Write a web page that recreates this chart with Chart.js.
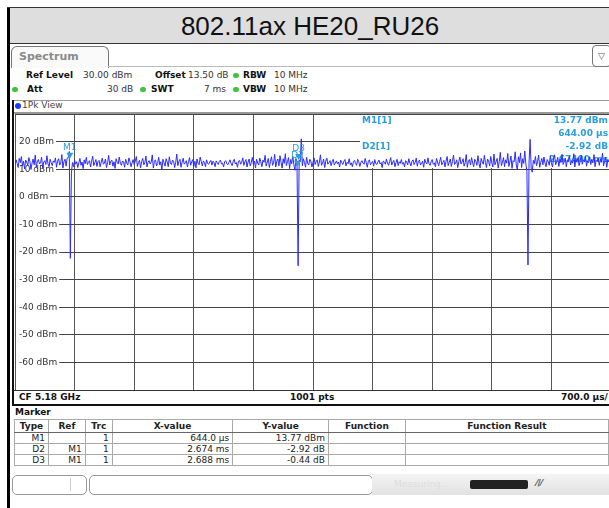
<!DOCTYPE html>
<html>
<head>
<meta charset="utf-8">
<script src="https://cdn.jsdelivr.net/npm/chart.js@4.4.1/dist/chart.umd.min.js"></script>
<style>
body { margin: 0; background: #fff; font-family: "DejaVu Sans", sans-serif; }
#page { position: relative; width: 609px; height: 508px; overflow: hidden; }
.a { position: absolute; white-space: nowrap; }
.t9 { font-size: 9px; line-height: 11px; color: #333; }
.b { font-weight: bold; color: #111; }
.dot { position: absolute; width: 6px; height: 5px; border-radius: 3px; background: #3cc43c; }
#title { left: 10px; top: 8px; width: 600px; height: 35px; background: #dedede; border-bottom: 1px solid #333;
  font-family: "Liberation Sans", Arial, sans-serif; font-size: 26px; line-height: 36px; text-align: center; color: #111; }
#plotwrap { position: absolute; left: 15px; top: 114px; width: 594px; height: 276px; overflow: hidden; }
table { border-collapse: collapse; font-size: 9px; color: #222; }
td, th { border: 1px solid #aaa; padding: 0 3px; height: 10px; line-height: 10px; text-align: right; }
th { font-weight: bold; text-align: center; border-bottom: 1px solid #666; height: 12px; }
</style>
</head>
<body>
<div id="page">
  <div class="a" style="left:7px;top:7px;width:3px;height:501px;background:#000"></div>
  <div class="a" style="left:7px;top:7px;width:602px;height:1px;background:#333"></div>
  <div class="a" id="title">802.11ax HE20_RU26</div>

  <div class="a" style="left:11px;top:46px;width:96px;height:21px;border:1px solid #777;border-bottom:none;border-radius:6px 6px 0 0;background:#fafafa"></div>
  <div class="a b" style="left:19px;top:50px;font-size:11px;color:#8a8a8a">Spectrum</div>
  <div class="a" style="left:108px;top:66px;width:501px;height:1px;background:#bbb"></div>
  <div class="a" style="left:592px;top:45px;width:17px;height:20px;border:1px solid #777;border-radius:4px;font-size:9px;line-height:20px;text-align:center;color:#555">&#9661;</div>

  <div class="a t9 b" style="left:26px;top:70px">Ref Level</div>
  <div class="a t9" style="left:83px;top:70px">30.00 dBm</div>
  <div class="a t9 b" style="left:155px;top:70px">Offset</div>
  <div class="a t9" style="left:188px;top:70px">13.50 dB</div>
  <div class="dot" style="left:233px;top:73px"></div>
  <div class="a t9 b" style="left:243px;top:70px">RBW</div>
  <div class="a t9" style="left:274px;top:70px">10 MHz</div>

  <div class="dot" style="left:12px;top:87px"></div>
  <div class="a t9 b" style="left:27px;top:84px">Att</div>
  <div class="a t9" style="left:107px;top:84px">30 dB</div>
  <div class="dot" style="left:140px;top:87px"></div>
  <div class="a t9 b" style="left:151px;top:84px">SWT</div>
  <div class="a t9" style="left:204px;top:84px">7 ms</div>
  <div class="dot" style="left:233px;top:87px"></div>
  <div class="a t9 b" style="left:243px;top:84px">VBW</div>
  <div class="a t9" style="left:274px;top:84px">10 MHz</div>

  <div class="a" style="left:12px;top:100px;width:597px;height:1px;background:#999"></div>
  <div class="a" style="left:12px;top:100px;width:2px;height:306px;background:#111"></div>
  <div class="a" style="left:15px;top:103px;width:6px;height:6px;border-radius:3px;background:#1a3cff"></div>
  <div class="a t9" style="left:22px;top:100px;color:#444">1Pk View</div>
  <div class="a" style="left:14px;top:112px;width:595px;height:2px;background:#999"></div>

  <div id="plotwrap"><canvas id="spec" width="596" height="276"></canvas></div>

  <div class="a" style="left:14px;top:390px;width:595px;height:1px;background:#333"></div>
  <div class="a t9 b" style="left:19px;top:392px">CF 5.18 GHz</div>
  <div class="a t9 b" style="left:290px;top:392px">1001 pts</div>
  <div class="a t9 b" style="left:561px;top:392px">700.0 µs/</div>
  <div class="a" style="left:12px;top:404px;width:597px;height:2px;background:#111"></div>

  <div class="a t9 b" style="left:15px;top:407px">Marker</div>
  <div class="a" style="left:14px;top:419px">
    <table id="mtab"></table>
  </div>

  <div class="a" style="left:12px;top:475px;width:73px;height:18px;border:1px solid #999;border-radius:5px"></div>
  <div class="a" style="left:70px;top:478px;width:1px;height:13px;background:#ccc"></div>
  <div class="a" style="left:89px;top:475px;width:282px;height:18px;border:1px solid #999;border-radius:5px"></div>
  <div class="a" style="left:372px;top:474px;width:237px;height:21px;background:linear-gradient(#f4f4f4,#e2e2e2)"></div>
  <div class="a t9" style="left:394px;top:479px;color:#ddd">Measuring...</div>
  <div class="a" style="left:470px;top:480px;width:58px;height:9px;background:#222;border-radius:2px"></div>
  <div class="a t9 b" style="left:536px;top:478px;color:#555">&#8260;/&#8260;</div>
</div>

<script>
// trace: 1Pk View, sweep 0 .. 7 ms, levels in dBm
const sweepTime = 7000; // µs
const yTicks = [20, 10, 0, -10, -20, -30, -40, -50, -60];
const level = [
  11.8, 13.4, 12.1, 10.6, 13.9, 12.4, 14.6, 11.2, 12.9, 10.1, 13.3, 12.6, 11.4, 14.2, 12.8, 9.9, 12.2, 13.7, 11.6, 15.1,
  10.8, 12.7, 13.5, 11.9, 12.3, 14.4, 10.5, 12.6, 13.1, 11.7, 14.9, 12.0, 10.9, 13.6, 12.4, 11.3, 13.0, 12.5, 14.1, 10.7,
  12.9, 13.8, 11.5, 12.2, 15.3, 10.4, 12.8, 13.6, 11.1, 14.0, 14.2, 16.4, -22.3, 8.6, 12.4, 10.9, 13.2, 11.8, 12.7, 10.6,
  12.3, 13.9, 11.4, 12.6, 10.2, 13.4, 12.0, 14.3, 11.7, 12.5, 13.1, 10.8, 12.9, 14.7, 11.3, 12.4, 13.5, 11.0, 12.8, 13.2,
  10.9, 12.6, 14.0, 11.8, 12.2, 13.7, 10.6, 12.4, 15.0, 11.5, 12.9, 13.3, 11.1, 12.7, 10.3, 13.8, 12.5, 11.9, 14.4, 12.1,
  11.4, 13.0, 12.6, 10.7, 13.6, 12.2, 11.5, 14.1, 12.8, 10.9, 12.3, 13.5, 11.7, 12.9, 14.6, 11.0, 12.4, 13.2, 10.5, 12.7,
  13.9, 11.6, 12.3, 14.8, 10.8, 12.5, 13.1, 11.9, 12.6, 15.2, 10.4, 12.8, 13.4, 11.2, 12.0, 14.3, 11.5, 12.7, 9.8, 13.6,
  12.4, 11.1, 13.8, 12.6, 10.9, 14.5, 12.2, 11.7, 13.3, 12.9, 10.6, 12.4, 15.5, 11.3, 12.8, 13.6, 10.7, 12.5, 14.0, 11.8,
  12.3, 13.1, 10.8, 12.7, 14.2, 11.4, 12.6, 13.5, 11.0, 12.9, 10.5, 13.7, 12.2, 11.6, 14.4, 12.8, 11.2, 13.0, 12.4, 10.9,
  13.4, 12.1, 11.8, 12.6, 13.2, 11.5, 12.9, 12.3, 10.9, 13.0, 12.4, 11.7, 12.8, 13.3, 11.9, 12.2, 10.8, 12.7, 13.1, 12.0,
  11.6, 12.5, 13.4, 12.1, 11.3, 12.8, 13.6, 11.9, 12.4, 10.7, 12.9, 13.2, 11.8, 12.5, 14.1, 11.4, 12.7, 13.5, 10.8, 12.6,
  13.7, 11.2, 12.4, 14.3, 11.7, 12.9, 10.5, 13.6, 12.2, 11.5, 14.0, 12.7, 10.9, 13.3, 12.5, 15.0, 11.1, 12.6, 13.9, 10.6,
  12.8, 14.5, 11.4, 12.3, 15.4, 10.8, 12.9, 13.7, 11.2, 14.9, 12.5, 10.4, 13.8, 12.1, 15.6, 11.3, 12.7, 14.2, 10.2, 13.5,
  12.0, 14.8, 11.6, 9.6, 13.9, 10.9, -25.0, 13.3, 12.6, 21.0, 11.2, 13.8, 12.4, 10.7, 14.3, 12.1, 11.5, 13.6, 12.9, 10.8,
  12.5, 14.1, 11.7, 12.8, 13.4, 11.0, 12.6, 15.2, 11.4, 12.3, 13.7, 10.6, 12.9, 14.0, 11.8, 12.4, 13.1, 11.3, 12.7, 13.6,
  11.5, 12.2, 13.0, 11.9, 12.6, 10.8, 13.3, 12.4, 11.7, 12.9, 13.5, 11.2, 12.5, 12.0, 13.8, 11.6, 12.3, 10.9, 12.8, 13.2,
  12.1, 11.4, 13.6, 12.7, 11.0, 12.5, 13.1, 12.2, 11.8, 13.9, 12.4, 10.7, 12.9, 13.4, 11.6, 12.3, 12.8, 11.1, 13.5, 12.0,
  11.7, 12.6, 13.3, 11.9, 12.4, 10.6, 13.0, 12.5, 11.8, 13.7, 12.2, 11.4, 12.8, 14.2, 11.5, 12.6, 13.2, 10.9, 12.4, 13.6,
  11.3, 12.7, 12.1, 13.5, 11.8, 12.4, 10.8, 13.1, 12.6, 11.6, 13.8, 12.3, 11.2, 12.9, 13.4, 11.7, 12.5, 14.0, 11.1, 12.8,
  13.3, 11.5, 12.2, 12.9, 10.7, 13.6, 12.4, 11.9, 14.1, 12.0, 11.4, 12.7, 13.5, 11.8, 12.3, 10.9, 13.9, 12.6, 11.2, 12.8,
  14.3, 11.6, 12.4, 13.2, 10.8, 12.9, 14.6, 11.3, 12.5, 13.7, 11.0, 12.8, 15.1, 11.7, 12.2, 13.4, 10.6, 12.7, 14.4, 11.9,
  12.6, 13.8, 11.1, 12.4, 15.3, 10.7, 12.9, 13.5, 11.5, 14.2, 12.3, 10.9, 13.6, 12.8, 11.4, 14.9, 12.1, 10.5, 13.9, 12.6,
  11.8, 15.0, 12.4, 10.6, 13.7, 12.9, 11.2, 14.6, 12.3, 10.8, 15.5, 11.6, 12.7, 13.9, 10.4, 12.8, 16.1, 11.3, 12.5, 14.2,
  10.9, 13.4, 12.2, 15.7, 11.0, 12.6, 14.8, 10.3, 13.1, 12.7, 16.3, 11.5, 9.8, 14.5, 12.4, 15.9, 10.6, 13.8, 12.1, 16.6,
  11.9, 9.2, -24.7, 12.6, 20.8, 10.4, 8.9, 13.2, 12.0, 14.6, 11.3, 12.8, 15.1, 10.7, 12.5, 13.9, 11.6, 14.4, 12.2, 10.9,
  13.5, 12.8, 11.4, 14.9, 12.3, 10.8, 13.7, 15.2, 11.6, 12.9, 14.3, 11.0, 13.6, 12.4, 15.4, 11.7, 12.6, 14.0, 10.9, 13.3,
  12.7, 14.8, 11.5, 13.1, 12.2, 15.6, 10.8, 13.9, 12.5, 14.2, 11.3, 12.9, 15.0, 11.8, 13.4, 12.6, 14.7, 11.1, 13.0, 12.4,
  14.5, 11.7, 13.6, 12.3, 15.3, 10.9, 13.2, 12.8, 14.1, 11.4, 13.7, 12.5, 15.8, 11.2, 12.9, 14.4, 10.7, 13.5, 12.6, 14.9,
  12.2
];

// markers
const markerNames = ['M1', 'D2', 'D3'];
const markerTimes = [644, 3318, 3332];   // µs
const markerLevels = [13.77, 10.85, 13.33]; // dBm (D2/D3 relative to M1: -2.92 / -0.44 dB)

const tableHead = ['Type', 'Ref', 'Trc', 'X-value', 'Y-value', 'Function', 'Function Result'];
const tableRows = [
  ['M1', '', '1', '644.0 µs', '13.77 dBm', '', ''],
  ['D2', 'M1', '1', '2.674 ms', '-2.92 dB', '', ''],
  ['D3', 'M1', '1', '2.688 ms', '-0.44 dB', '', '']
];
const colWidths = [34, 37, 27, 121, 96, 77, 204];

const markerInfo = [
  ['M1[1]', '13.77 dBm', '644.00 µs'],
  ['D2[1]', '-2.92 dB', '2.67400 ms']
];

// marker table
(function () {
  const tab = document.getElementById('mtab');
  let html = '<tr>';
  tableHead.forEach((h, i) => { html += '<th style="width:' + (colWidths[i] - 7) + 'px">' + h + '</th>'; });
  html += '</tr>';
  tableRows.forEach(r => {
    html += '<tr>';
    r.forEach(c => { html += '<td>' + c + '</td>'; });
    html += '</tr>';
  });
  tab.innerHTML = html;
})();

const MCOL = '#2c9ede';

const screenPlugin = {
  id: 'screen',
  beforeDatasetsDraw(chart) {
    const ctx = chart.ctx;
    const y = chart.scales.y;
    ctx.save();
    // marker info area
    ctx.fillStyle = '#fff';
    ctx.fillRect(345, 1, 260, 53);
    // level labels inside the grid
    ctx.font = '9px "DejaVu Sans", sans-serif';
    ctx.textBaseline = 'middle';
    yTicks.forEach(v => {
      const py = y.getPixelForValue(v);
      const txt = v + ' dBm';
      const w = ctx.measureText(txt).width;
      ctx.fillStyle = '#fff';
      ctx.fillRect(1, py - 6, w + 5, 12);
      ctx.fillStyle = '#333';
      ctx.fillText(txt, 4, py);
    });
    // marker info text
    ctx.font = 'bold 9px "DejaVu Sans", sans-serif';
    ctx.fillStyle = MCOL;
    markerInfo.forEach((m, i) => {
      const top = 7 + i * 26;
      ctx.textAlign = 'left';
      ctx.fillText(m[0], 347, top);
      ctx.textAlign = 'right';
      ctx.fillText(m[1], 593, top);
      ctx.fillText(m[2], 593, top + 13);
    });
    ctx.restore();
  },
  afterDatasetsDraw(chart) {
    const ctx = chart.ctx;
    const xs = chart.scales.x, ys = chart.scales.y;
    ctx.save();
    ctx.fillStyle = MCOL;
    ctx.font = '9px "DejaVu Sans", sans-serif';
    ctx.textAlign = 'center';
    ctx.textBaseline = 'bottom';
    markerNames.forEach((n, i) => {
      const px = xs.getPixelForValue(markerTimes[i]);
      const py = ys.getPixelForValue(markerLevels[i]);
      ctx.beginPath();
      ctx.moveTo(px, py);
      ctx.lineTo(px - 3.5, py - 6);
      ctx.lineTo(px + 3.5, py - 6);
      ctx.closePath();
      ctx.fill();
      ctx.fillText(n, px, py - 7);
    });
    ctx.restore();
  }
};

const step = sweepTime / (level.length - 1);
new Chart(document.getElementById('spec'), {
  type: 'line',
  data: {
    datasets: [{
      data: level.map((v, i) => ({ x: i * step, y: v })),
      borderColor: '#2a2aff',
      borderWidth: 1,
      pointRadius: 0,
      tension: 0
    }]
  },
  options: {
    responsive: false,
    animation: false,
    devicePixelRatio: 1,
    layout: { padding: 0 },
    plugins: { legend: { display: false }, tooltip: { enabled: false } },
    scales: {
      x: {
        type: 'linear', min: 0, max: sweepTime,
        ticks: { display: false, stepSize: 700 },
        grid: { color: '#555', drawTicks: false },
        border: { display: false }
      },
      y: {
        min: -70, max: 30,
        ticks: { display: false, stepSize: 10 },
        grid: { color: '#444', drawTicks: false },
        border: { display: false }
      }
    }
  },
  plugins: [screenPlugin]
});
</script>
</body>
</html>
